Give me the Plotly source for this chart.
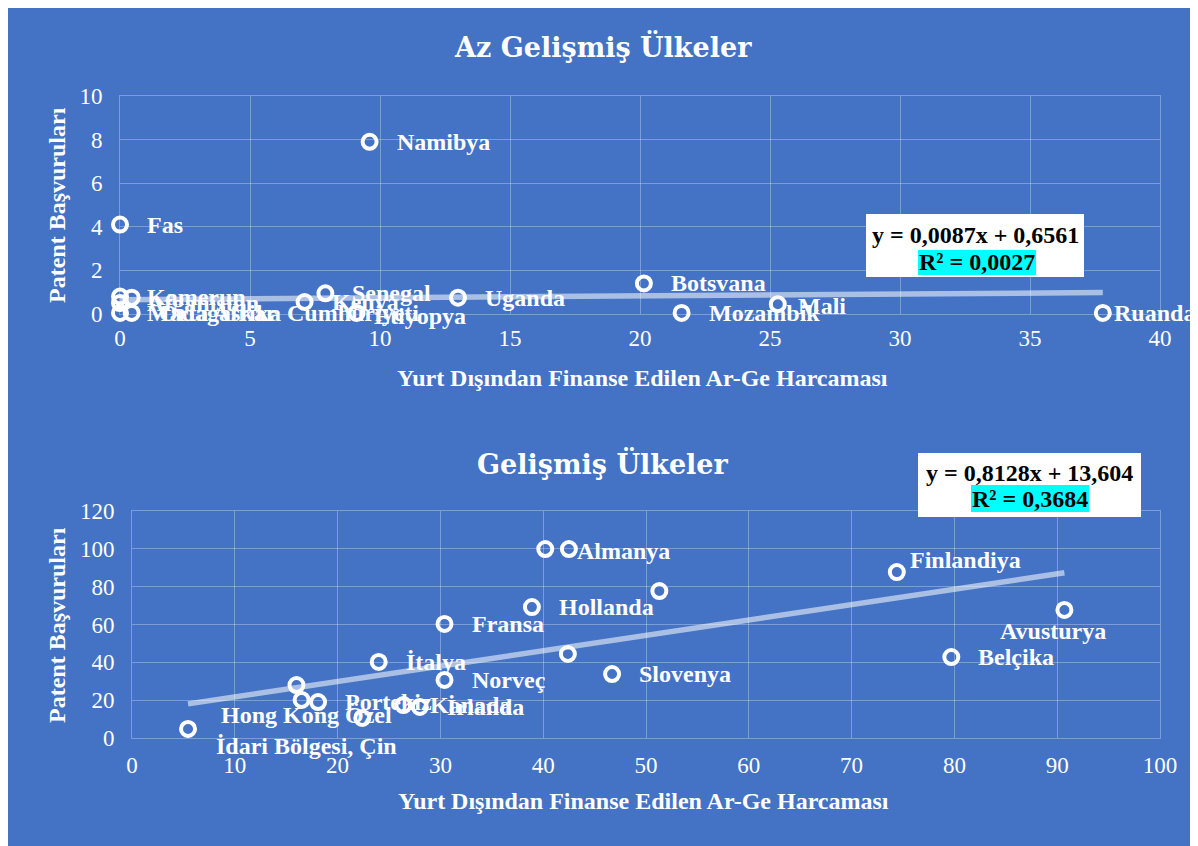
import plotly.graph_objects as go

# ---------------- data ----------------
az_names = ["Namibya", "Fas", "Botsvana", "Uganda", "Senegal", "Kenya", "Mali",
            "Mozambik", "Ruanda", "Etiyopya", "Kamerun", "", "Afganistan",
            "Madagaskar", "Orta Afrika Cumhuriyeti"]
az_x = [9.6, 0.0, 20.15, 13.0, 7.9, 7.1, 25.3, 21.6, 37.8, 9.1, 0.0, 0.45, 0.0, 0.0, 0.45]
az_y = [7.9, 4.1, 1.4, 0.75, 0.95, 0.55, 0.45, 0.05, 0.05, 0.05, 0.8, 0.75, 0.5, 0.05, 0.05]
az_coef = [0.0087, 0.6561]
az_eq = "y = 0,0087x + 0,6561"
az_r2 = "R² = 0,0027"

gl_names = ["Almanya", "", "", "Hollanda", "Fransa", "", "Slovenya", "İtalya", "Norveç",
            "Finlandiya", "Avusturya", "Belçika", "", "", "Portekiz", "", "Kanada",
            "İrlanda", "Hong Kong Özel<br>İdari Bölgesi, Çin"]
gl_x = [40.2, 42.5, 51.3, 38.9, 30.4, 42.4, 46.7, 24.0, 30.4, 74.4, 90.7, 79.7,
        16.0, 16.5, 18.1, 22.4, 26.4, 28.0, 5.45]
gl_y = [99.9, 99.9, 77.7, 69.2, 60.3, 44.4, 33.8, 40.2, 30.7, 87.7, 67.7, 42.8,
        28.0, 20.1, 19.0, 10.6, 17.4, 16.4, 4.8]
gl_coef = [0.8128, 13.604]
gl_eq = "y = 0,8128x + 13,604"
gl_r2 = "R² = 0,3684"

title_top = "Az Gelişmiş Ülkeler"
title_bot = "Gelişmiş Ülkeler"
x_title = "Yurt Dışından Finanse Edilen Ar-Ge Harcaması"
y_title = "Patent Başvuruları"

# ---------------- styling ----------------
OX, OY = 8, 8            # page offset of the figure in the screenshot
W, H = 1190, 838
BLUE = "#4472C4"
GRID = "rgba(255,255,255,0.30)"
TREND = "rgba(255,255,255,0.55)"
FONT = "Liberation Serif"
LBL = 24

# label placement (pixel shifts, anchor) for the data labels
DEFAULT_SHIFT = (25, 0, "left")
label_style = {
    "Mali": (18, -2, "left"),
    "Ruanda": (9, 0, "left"),
    "Etiyopya": (15, -3, "left"),
    "Almanya": (30, -2, "left"),
    "Finlandiya": (11, 12, "left"),
    "Avusturya": (-11, -21, "center"),
    "Hong Kong Özel<br>İdari Bölgesi, Çin": (26, -2, "left"),
}


def fx(px):
    return (px - OX) / W


def fy(py):
    return (OY + H - py) / H


def trend(xs, coef):
    x0, x1 = min(xs), max(xs)
    return [x0, x1], [coef[0] * x0 + coef[1], coef[0] * x1 + coef[1]]


fig = go.Figure()
marker = dict(symbol="circle-open", size=14, color="white", line=dict(width=4, color="white"))

tx, ty = trend(az_x, az_coef)
fig.add_trace(go.Scatter(x=tx, y=ty, mode="lines", xaxis="x", yaxis="y",
                         line=dict(color=TREND, width=5.5), hoverinfo="skip"))
fig.add_trace(go.Scatter(x=az_x, y=az_y, mode="markers", xaxis="x", yaxis="y",
                         marker=marker, cliponaxis=False))

tx, ty = trend(gl_x, gl_coef)
fig.add_trace(go.Scatter(x=tx, y=ty, mode="lines", xaxis="x2", yaxis="y2",
                         line=dict(color=TREND, width=5.5), hoverinfo="skip"))
fig.add_trace(go.Scatter(x=gl_x, y=gl_y, mode="markers", xaxis="x2", yaxis="y2",
                         marker=marker, cliponaxis=False))

axis_common = dict(showgrid=True, gridcolor=GRID, gridwidth=1, zeroline=False,
                   showline=True, linecolor=GRID, linewidth=1, mirror=True,
                   ticks="outside", tickcolor="rgba(0,0,0,0)",
                   tickfont=dict(family=FONT, size=23, color="white"))

fig.update_layout(
    width=W, height=H,
    margin=dict(l=0, t=0, r=0, b=0, autoexpand=False),
    paper_bgcolor=BLUE, plot_bgcolor="rgba(0,0,0,0)",
    showlegend=False,
    xaxis=dict(domain=[fx(120), fx(1160)], range=[0, 40], dtick=5, anchor="y",
               ticklen=3, **axis_common),
    yaxis=dict(domain=[fy(314), fy(96)], range=[0, 10], dtick=2, anchor="x",
               ticklen=12, **axis_common),
    xaxis2=dict(domain=[fx(132), fx(1160)], range=[0, 100], dtick=10, anchor="y2",
                ticklen=6, **axis_common),
    yaxis2=dict(domain=[fy(738), fy(511)], range=[0, 120], dtick=20, anchor="x2",
                ticklen=12, **axis_common),
)

shapes = [
    dict(type="rect", xref="paper", yref="paper", x0=fx(866), x1=fx(1084), y0=fy(277), y1=fy(214),
         fillcolor="white", line=dict(width=0), layer="above"),
    dict(type="rect", xref="paper", yref="paper", x0=fx(918), x1=fx(1036), y0=fy(275), y1=fy(250),
         fillcolor="#00FFFF", line=dict(width=0), layer="above"),
    dict(type="rect", xref="paper", yref="paper", x0=fx(918), x1=fx(1141), y0=fy(517), y1=fy(453),
         fillcolor="white", line=dict(width=0), layer="above"),
    dict(type="rect", xref="paper", yref="paper", x0=fx(971), x1=fx(1089), y0=fy(512), y1=fy(485),
         fillcolor="#00FFFF", line=dict(width=0), layer="above"),
]
fig.update_layout(shapes=shapes)


def ann(text, px, py, size=24, color="white", bold=True, angle=0, family=FONT):
    return dict(text=text, xref="paper", yref="paper", x=fx(px), y=fy(py),
                xanchor="center", yanchor="middle", showarrow=False, textangle=angle,
                font=dict(family=family, size=size, color=color,
                          weight="bold" if bold else "normal"))


annotations = [
    ann(title_top, 603, 46, size=27, family="DejaVu Serif"),
    ann(title_bot, 603, 463, size=27, family="DejaVu Serif"),
    ann(x_title, 642, 378),
    ann(x_title, 643, 801),
    ann(y_title, 57, 205, angle=-90),
    ann(y_title, 57, 625, angle=-90),
    ann(az_eq, 975, 235, color="black"),
    ann(az_r2, 977, 262, color="black"),
    ann(gl_eq, 1030, 473, color="black"),
    ann(gl_r2, 1030, 499, color="black"),
]


def data_labels(names, xs, ys, xr, yr):
    out = []
    for n, xv, yv in zip(names, xs, ys):
        if not n:
            continue
        dx, dy, anchor = label_style.get(n, DEFAULT_SHIFT)
        out.append(dict(text=n, x=xv, y=yv, xref=xr, yref=yr, showarrow=False,
                        xanchor=anchor, yanchor="middle", xshift=dx, yshift=dy,
                        align="center",
                        font=dict(family=FONT, size=LBL, color="white", weight="bold")))
    return out


annotations = (data_labels(az_names, az_x, az_y, "x", "y")
               + data_labels(gl_names, gl_x, gl_y, "x2", "y2")
               + annotations)
fig.update_layout(annotations=annotations)

fig.write_html("out.html")
